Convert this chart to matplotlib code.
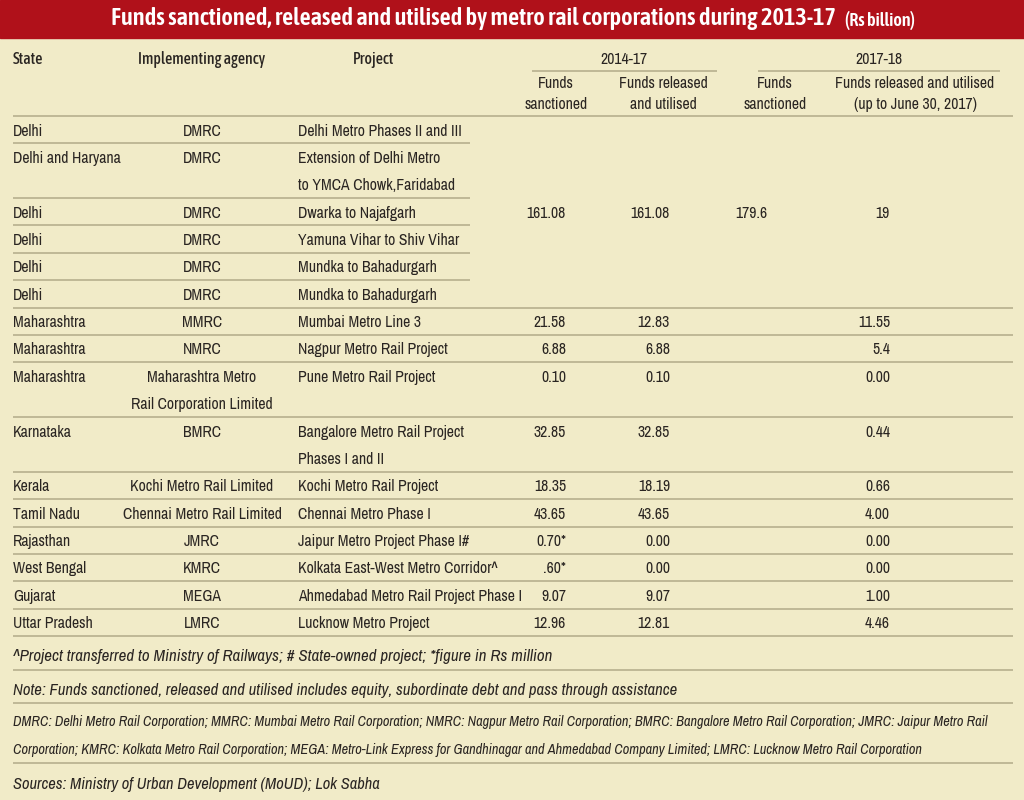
import matplotlib.pyplot as plt
from matplotlib.patches import Rectangle

# table data
states = ["Delhi", "Delhi and Haryana", "Delhi", "Delhi", "Delhi", "Delhi",
          "Maharashtra", "Maharashtra", "Maharashtra", "Karnataka", "Kerala",
          "Tamil Nadu", "Rajasthan", "West Bengal", "Gujarat", "Uttar Pradesh"]
agencies = ["DMRC", "DMRC", "DMRC", "DMRC", "DMRC", "DMRC", "MMRC", "NMRC",
            "Maharashtra Metro\nRail Corporation Limited", "BMRC",
            "Kochi Metro Rail Limited", "Chennai Metro Rail Limited", "JMRC",
            "KMRC", "MEGA", "LMRC"]
projects = ["Delhi Metro Phases II and III",
            "Extension of Delhi Metro\nto YMCA Chowk,Faridabad",
            "Dwarka to Najafgarh", "Yamuna Vihar to Shiv Vihar",
            "Mundka to Bahadurgarh", "Mundka to Bahadurgarh",
            "Mumbai Metro Line 3", "Nagpur Metro Rail Project",
            "Pune Metro Rail Project",
            "Bangalore Metro Rail Project\nPhases I and II",
            "Kochi Metro Rail Project", "Chennai Metro Phase I",
            "Jaipur Metro Project Phase I#", "Kolkata East-West Metro Corridor^",
            "Ahmedabad Metro Rail Project Phase I", "Lucknow Metro Project"]

# Delhi projects share one merged set of values
delhi_rows = 6
delhi_values = ["161.08", "161.08", "179.6", "19"]

# remaining rows
sanctioned_1417 = ["21.58", "6.88", "0.10", "32.85", "18.35", "43.65",
                   "0.70*", ".60*", "9.07", "12.96"]
released_1417 = ["12.83", "6.88", "0.10", "32.85", "18.19", "43.65",
                 "0.00", "0.00", "9.07", "12.81"]
sanctioned_1718 = ["", "", "", "", "", "", "", "", "", ""]
released_1718 = ["11.55", "5.4", "0.00", "0.44", "0.66", "4.00",
                 "0.00", "0.00", "1.00", "4.46"]

title = "Funds sanctioned, released and utilised by metro rail corporations during 2013-17"
unit = "(Rs billion)"
footnotes = [
    "^Project transferred to Ministry of Railways; # State-owned project; *figure in Rs million",
    "Note: Funds sanctioned, released and utilised includes equity, subordinate debt and pass through assistance",
]
abbrev = ("DMRC: Delhi Metro Rail Corporation; MMRC: Mumbai Metro Rail Corporation; NMRC: Nagpur Metro Rail Corporation; "
          "BMRC: Bangalore Metro Rail Corporation; JMRC: Jaipur Metro Rail",
          "Corporation; KMRC: Kolkata Metro Rail Corporation; MEGA: Metro-Link Express for Gandhinagar and "
          "Ahmedabad Company Limited; LMRC: Lucknow Metro Rail Corporation")
source = "Sources: Ministry of Urban Development (MoUD); Lok Sabha"

BG = "#f1ebc8"
RED = "#b0111a"
LINE = "#b7b08e"
INK = "#2a2522"
FONT = ["Archivo Narrow", "Roboto Condensed", "DejaVu Sans"]
BOLD = ["Asap Condensed", "Archivo Narrow", "DejaVu Sans"]

plt.rcParams["font.family"] = FONT

fig = plt.figure(figsize=(10.24, 8), dpi=100, facecolor=BG)
ax = fig.add_axes([0, 0, 1, 1])
ax.set_xlim(0, 1024)
ax.set_ylim(800, 0)
ax.axis("off")
renderer = fig.canvas.get_renderer()


def fit(s, width, **kw):
    # font size that makes s about `width` pixels wide
    t = ax.text(0, 0, s, fontsize=10, **kw)
    w = t.get_window_extent(renderer).width
    t.remove()
    return 10 * width / w


def hline(y, x0=13, x1=1013):
    ax.plot([x0, x1], [y, y], color=LINE, lw=1.2, solid_capstyle="butt")


# title bar
ax.add_patch(Rectangle((0, 0), 1024, 38, color=RED, zorder=0))
tkw = dict(family=BOLD, fontweight="semibold")
ax.text(111, 19, title, color="white", ha="left", va="center",
        fontsize=fit(title, 729, **tkw), **tkw)
ax.text(845, 21, unit, color="white", ha="left", va="center",
        fontsize=fit(unit, 71, **tkw), **tkw)

fs = fit("Ahmedabad Metro Rail Project Phase I", 224)
hkw = dict(family=BOLD, fontweight="medium")
fsh = fit("Implementing agency", 127, **hkw)
x_state, x_agency, x_project = 13, 202, 298
x_cols = [566, 670, 767, 890]

# header
ax.text(x_state, 59, "State", fontsize=fsh, color=INK, va="center", **hkw)
ax.text(x_agency, 59, "Implementing agency", fontsize=fsh, color=INK, va="center",
        ha="center", **hkw)
ax.text(374, 59, "Project", fontsize=fsh, color=INK, va="center", ha="center", **hkw)
ax.text(624, 60, "2014-17", fontsize=fs, color=INK, va="center", ha="center")
ax.text(879, 60, "2017-18", fontsize=fs, color=INK, va="center", ha="center")
hline(71, 532, 717)
hline(71, 758, 1000)
heads = ["Funds\nsanctioned", "Funds released\nand utilised", "Funds\nsanctioned",
         "Funds released and utilised\n(up to June 30, 2017)"]
for xc, h in zip([556, 663, 775, 915], heads):
    ax.text(xc, 94, h, fontsize=fs, color=INK, va="center", ha="center",
            linespacing=1.5)
hline(116)

# body rows
step = 27.37
y = 116
row_tops = []
for i in range(len(states)):
    n = max(agencies[i].count("\n"), projects[i].count("\n")) + 1
    row_tops.append(y)
    for k, line in enumerate(states[i].split("\n")):
        ax.text(x_state, y + 15 + k * step, line, fontsize=fs, color=INK, va="center")
    for k, line in enumerate(agencies[i].split("\n")):
        ax.text(x_agency, y + 15 + k * step, line, fontsize=fs, color=INK,
                va="center", ha="center")
    for k, line in enumerate(projects[i].split("\n")):
        ax.text(x_project, y + 15 + k * step, line, fontsize=fs, color=INK, va="center")
    y += n * step
    if i < delhi_rows - 1:
        hline(y, 13, 470)
    else:
        hline(y)

# merged Delhi values
ydel = row_tops[2] + 15
for xc, v in zip(x_cols, delhi_values):
    ax.text(xc, ydel, v, fontsize=fs, color=INK, va="center", ha="right")

cols = [sanctioned_1417, released_1417, sanctioned_1718, released_1718]
for j in range(len(released_1718)):
    yt = row_tops[delhi_rows + j] + 15
    for xc, c in zip(x_cols, cols):
        ax.text(xc, yt, c[j], fontsize=fs, color=INK, va="center", ha="right")

# footnotes
it = dict(color=INK, va="center", style="italic")
ax.text(x_state, 657, footnotes[0], fontsize=fit(footnotes[0], 538, style="italic"), **it)
hline(670)
ax.text(x_state, 690, footnotes[1], fontsize=fit(footnotes[1], 666, style="italic"), **it)
hline(703)
fsa = fit(abbrev[0], 980, style="italic")
ax.text(x_state, 722, abbrev[0], fontsize=fsa, **it)
ax.text(x_state, 750, abbrev[1], fontsize=fsa, **it)
hline(763)
ax.text(x_state, 784, source, fontsize=fit(source, 368, style="italic"), **it)

fig.savefig("out.png", dpi=100, facecolor=BG)
